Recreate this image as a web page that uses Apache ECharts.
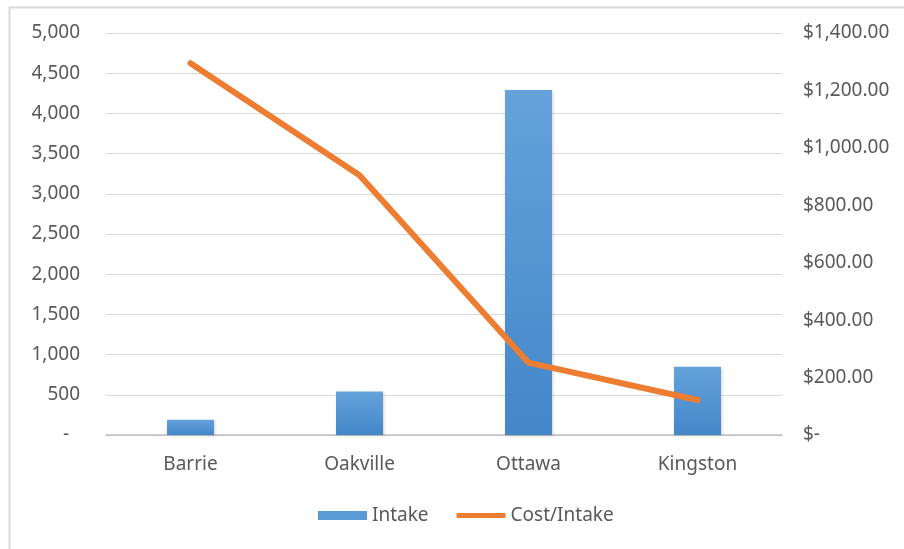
<!DOCTYPE html>
<html>
<head>
<meta charset="utf-8">
<script src="https://cdn.jsdelivr.net/npm/echarts@6/dist/echarts.min.js"></script>
<style>
  html, body { margin: 0; padding: 0; background: #fff; }
  #chart { width: 904px; height: 549px; }
</style>
</head>
<body>
<div id="chart"></div>
<script>
// Intake count and cost per intake, by site
const sites = ['Barrie', 'Oakville', 'Ottawa', 'Kingston'];
const intake = [190, 540, 4290, 850];
const costPerIntake = [1295, 905, 252, 122];

const intakeTicks = { min: 0, max: 5000, interval: 500 };
const costTicks = { min: 0, max: 1400, interval: 200 };

const FONT = '"Noto Sans", "Open Sans", sans-serif';
const TEXT = '#595959';
const GRID = '#d9d9d9';
const FS = 19;

function fmtIntake(v) {
  if (v === 0) return '{z|-}';
  return v.toLocaleString('en-US');
}
function fmtCost(v) {
  if (v === 0) return '$-';
  return '$' + v.toLocaleString('en-US', { minimumFractionDigits: 2, maximumFractionDigits: 2 });
}

const chart = echarts.init(document.getElementById('chart'), null, { renderer: 'canvas' });
chart.setOption({
  animation: false,
  backgroundColor: '#ffffff',
  textStyle: { fontFamily: FONT },
  graphic: [{
    type: 'rect',
    left: 7, top: 5,
    shape: { x: 0, y: 0, width: 1000, height: 1000 },
    style: { fill: 'none', stroke: GRID, lineWidth: 2 },
    silent: true
  }],
  grid: { left: 106, right: 122, top: 33, bottom: 114, containLabel: false },
  legend: {
    bottom: 19,
    left: 313,
    itemGap: 28,
    itemWidth: 49,
    itemHeight: 9,
    textStyle: { fontFamily: FONT, fontSize: FS, color: TEXT, padding: [0, 0, 0, 0] },
    data: [
      { name: 'Intake', icon: 'rect', itemStyle: { color: '#5b9bd5' } },
      { name: 'Cost/Intake', icon: 'path://M0,3 L100,3 L100,13 L0,13 Z' }
    ]
  },
  xAxis: {
    type: 'category',
    data: sites,
    axisTick: { show: false },
    axisLine: { show: true, lineStyle: { color: '#bfbfbf', width: 1.5 } },
    axisLabel: { fontFamily: FONT, fontSize: FS, color: TEXT, margin: 20 }
  },
  yAxis: [
    {
      type: 'value',
      min: intakeTicks.min, max: intakeTicks.max, interval: intakeTicks.interval,
      axisLine: { show: false },
      axisTick: { show: false },
      splitLine: { lineStyle: { color: GRID, width: 1 } },
      axisLabel: {
        fontFamily: FONT, fontSize: FS, color: TEXT, margin: 26,
        formatter: fmtIntake,
        rich: { z: { fontFamily: FONT, fontSize: FS, color: TEXT, padding: [0, 11, 0, 0] } }
      }
    },
    {
      type: 'value',
      min: costTicks.min, max: costTicks.max, interval: costTicks.interval,
      axisLine: { show: false },
      axisTick: { show: false },
      splitLine: { show: false },
      axisLabel: { fontFamily: FONT, fontSize: FS, color: TEXT, margin: 21, formatter: fmtCost }
    }
  ],
  series: [
    {
      name: 'Intake',
      type: 'bar',
      yAxisIndex: 0,
      data: intake,
      barWidth: 47,
      itemStyle: {
        color: new echarts.graphic.LinearGradient(0, 0, 0, 1, [
          { offset: 0, color: '#65a2db' },
          { offset: 1, color: '#4387c9' }
        ]),
        shadowColor: 'rgba(0,0,0,0.18)',
        shadowBlur: 3,
        shadowOffsetX: 1,
        shadowOffsetY: 1
      }
    },
    {
      name: 'Cost/Intake',
      type: 'line',
      yAxisIndex: 1,
      data: costPerIntake,
      showSymbol: false,
      symbol: 'none',
      itemStyle: { color: '#ed7d31' },
      lineStyle: { color: '#ed7d31', width: 6, cap: 'round', join: 'round' },
      z: 5
    }
  ]
});
</script>
</body>
</html>
